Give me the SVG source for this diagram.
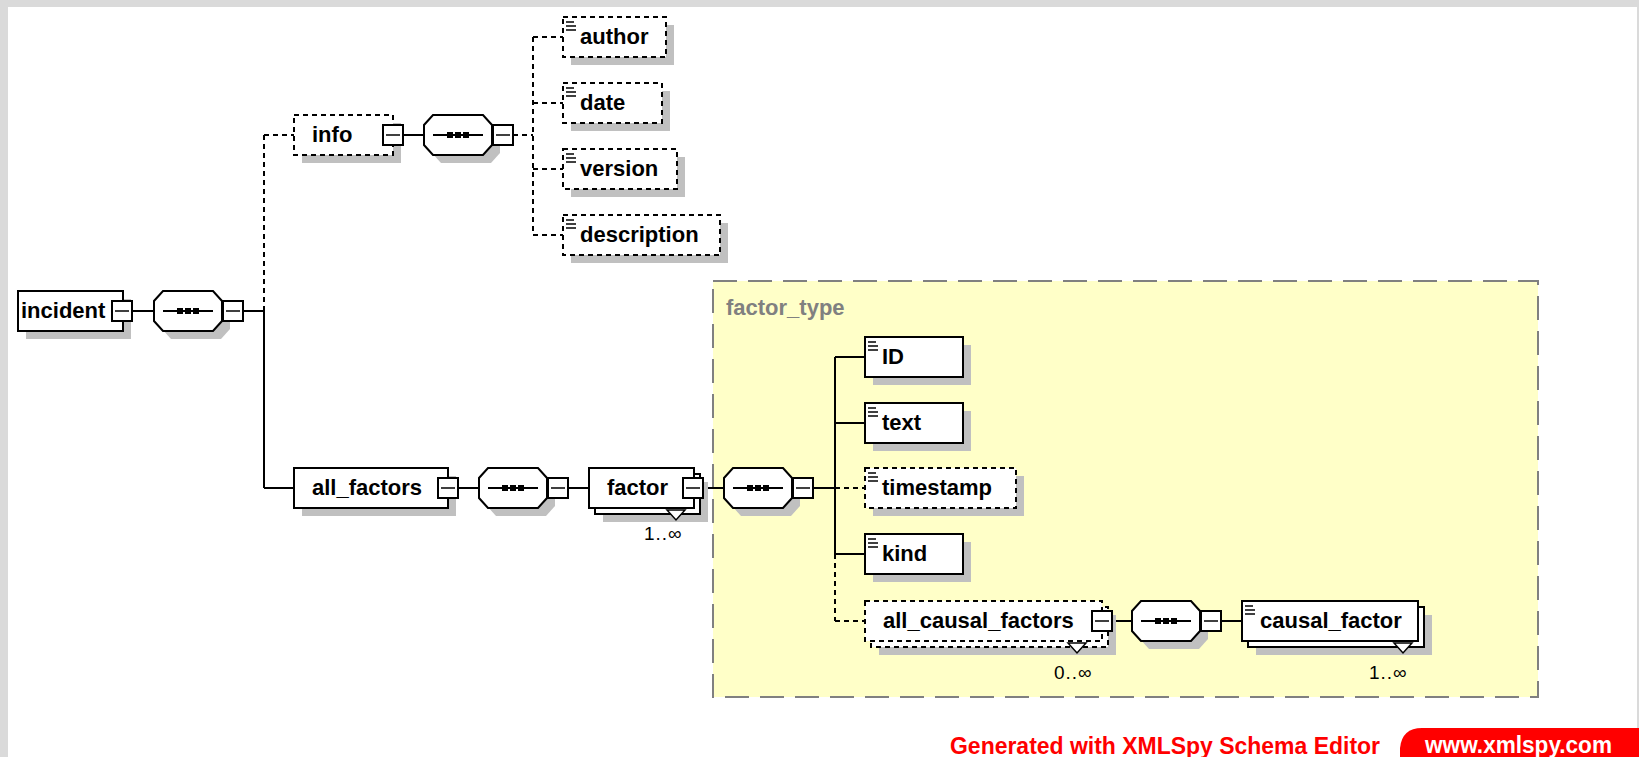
<svg xmlns="http://www.w3.org/2000/svg" width="1639" height="757" viewBox="0 0 1639 757">
<style>
.bg{fill:#dadada}
.page{fill:#ffffff}
.sh{fill:#c0c0c0}
.box{fill:#ffffff;stroke:#000;stroke-width:2}
.dbox{fill:#ffffff;stroke:#000;stroke-width:2;stroke-dasharray:5 4}
.ln{stroke:#000;stroke-width:2;fill:none}
.dl{stroke:#000;stroke-width:2;fill:none;stroke-dasharray:5 4}
.lbl{font-family:"Liberation Sans",Arial,sans-serif;font-weight:bold;font-size:22px;fill:#000}
.occ{font-family:"Liberation Sans",Arial,sans-serif;font-size:19px;fill:#000;letter-spacing:1px}
.type{font-family:"Liberation Sans",Arial,sans-serif;font-weight:bold;font-size:22px;fill:#808080}
.foot{font-family:"Liberation Sans Narrow","Liberation Sans",Arial,sans-serif;font-weight:bold;font-size:23px}
</style>
<defs>
<g id="minus">
<rect x="0" y="0" width="20" height="20" fill="#fff" stroke="#000" stroke-width="2"/>
<line x1="3" y1="10" x2="17" y2="10" stroke="#000" stroke-width="1.5"/>
</g>
<g id="seq">
<polygon points="17,8 67,8 76,18 76,38 67,48 17,48 8,38 8,18" class="sh"/>
<polygon points="9,0 59,0 68,10 68,30 59,40 9,40 0,30 0,10" fill="#fff" stroke="#000" stroke-width="2"/>
<line x1="9" y1="20" x2="59" y2="20" stroke="#000" stroke-width="2"/>
<rect x="23" y="17" width="6" height="6" fill="#000"/>
<rect x="31" y="17" width="6" height="6" fill="#000"/>
<rect x="39" y="17" width="6" height="6" fill="#000"/>
</g>
<g id="icon" stroke="#000" stroke-width="1.5">
<line x1="3" y1="5" x2="11" y2="5"/>
<line x1="3" y1="9" x2="13" y2="9"/>
<line x1="3" y1="13" x2="13" y2="13"/>
</g>
<polygon id="tri" points="0,0 18,0 9,10" fill="#fff" stroke="#000" stroke-width="1.5"/>
</defs>

<rect class="bg" x="0" y="0" width="1639" height="757"/>
<rect class="page" x="8" y="7" width="1629" height="750"/>

<g id="factor_type">
<rect x="713" y="281" width="825" height="416" fill="#ffffc8" stroke="#808080" stroke-width="2" stroke-dasharray="24 11"/>
<text class="type" x="726" y="315">factor_type</text>
</g>

<g id="connectors">
<line class="ln" x1="133" y1="311" x2="154" y2="311"/>
<line class="ln" x1="243" y1="311" x2="264" y2="311"/>
<line class="dl" x1="264" y1="135" x2="264" y2="311"/>
<line class="ln" x1="264" y1="311" x2="264" y2="488"/>
<line class="dl" x1="264" y1="135" x2="294" y2="135"/>
<line class="ln" x1="264" y1="488" x2="294" y2="488"/>
<line class="ln" x1="403" y1="135" x2="424" y2="135"/>
<line class="dl" x1="513" y1="135" x2="533" y2="135"/>
<line class="dl" x1="533" y1="37" x2="533" y2="235"/>
<line class="dl" x1="533" y1="37" x2="563" y2="37"/>
<line class="dl" x1="533" y1="103" x2="563" y2="103"/>
<line class="dl" x1="533" y1="169" x2="563" y2="169"/>
<line class="dl" x1="533" y1="235" x2="563" y2="235"/>
<line class="ln" x1="458" y1="488" x2="479" y2="488"/>
<line class="ln" x1="568" y1="488" x2="589" y2="488"/>
<line class="ln" x1="703" y1="488" x2="724" y2="488"/>
<line class="ln" x1="813" y1="488" x2="835" y2="488"/>
<line class="ln" x1="835" y1="357" x2="835" y2="554"/>
<line class="dl" x1="835" y1="554" x2="835" y2="621"/>
<line class="ln" x1="835" y1="357" x2="865" y2="357"/>
<line class="ln" x1="835" y1="423" x2="865" y2="423"/>
<line class="dl" x1="835" y1="488" x2="865" y2="488"/>
<line class="ln" x1="835" y1="554" x2="865" y2="554"/>
<line class="dl" x1="835" y1="621" x2="865" y2="621"/>
<line class="ln" x1="1112" y1="621" x2="1132" y2="621"/>
<line class="ln" x1="1221" y1="621" x2="1242" y2="621"/>
</g>

<g id="incident">
<rect class="sh" x="26" y="299" width="105" height="40"/>
<rect class="box" x="18" y="291" width="105" height="40"/>
<text class="lbl" x="21" y="318">incident</text>
<use href="#minus" x="112" y="301"/>
</g>
<g id="seq1"><use href="#seq" x="154" y="291"/><use href="#minus" x="223" y="301"/></g>

<g id="info">
<rect class="sh" x="302" y="123" width="99" height="40"/>
<rect class="dbox" x="294" y="115" width="99" height="40"/>
<text class="lbl" x="312" y="142">info</text>
<use href="#minus" x="383" y="125"/>
</g>
<g id="seq2"><use href="#seq" x="424" y="115"/><use href="#minus" x="493" y="125"/></g>

<g id="author">
<rect class="sh" x="571" y="25" width="103" height="40"/>
<rect class="dbox" x="563" y="17" width="103" height="40"/>
<use href="#icon" x="563" y="17"/>
<text class="lbl" x="580" y="44">author</text>
</g>
<g id="date">
<rect class="sh" x="571" y="91" width="99" height="40"/>
<rect class="dbox" x="563" y="83" width="99" height="40"/>
<use href="#icon" x="563" y="83"/>
<text class="lbl" x="580" y="110">date</text>
</g>
<g id="version">
<rect class="sh" x="571" y="157" width="114" height="40"/>
<rect class="dbox" x="563" y="149" width="114" height="40"/>
<use href="#icon" x="563" y="149"/>
<text class="lbl" x="580" y="176">version</text>
</g>
<g id="description">
<rect class="sh" x="571" y="223" width="157" height="40"/>
<rect class="dbox" x="563" y="215" width="157" height="40"/>
<use href="#icon" x="563" y="215"/>
<text class="lbl" x="580" y="242">description</text>
</g>

<g id="all_factors">
<rect class="sh" x="302" y="476" width="154" height="40"/>
<rect class="box" x="294" y="468" width="154" height="40"/>
<text class="lbl" x="312" y="495">all_factors</text>
<use href="#minus" x="438" y="478"/>
</g>
<g id="seq3"><use href="#seq" x="479" y="468"/><use href="#minus" x="548" y="478"/></g>

<g id="factor">
<rect class="sh" x="603" y="482" width="105" height="40"/>
<rect class="box" x="595" y="474" width="105" height="40"/>
<rect class="box" x="589" y="468" width="105" height="40"/>
<text class="lbl" x="607" y="495">factor</text>
<use href="#minus" x="683" y="478"/>
<use href="#tri" x="667" y="510"/>
<text class="occ" x="644" y="540">1..∞</text>
</g>
<g id="seq4"><use href="#seq" x="724" y="468"/><use href="#minus" x="793" y="478"/></g>

<g id="ID">
<rect class="sh" x="873" y="345" width="98" height="40"/>
<rect class="box" x="865" y="337" width="98" height="40"/>
<use href="#icon" x="865" y="337"/>
<text class="lbl" x="882" y="364">ID</text>
</g>
<g id="text">
<rect class="sh" x="873" y="411" width="98" height="40"/>
<rect class="box" x="865" y="403" width="98" height="40"/>
<use href="#icon" x="865" y="403"/>
<text class="lbl" x="882" y="430">text</text>
</g>
<g id="timestamp">
<rect class="sh" x="873" y="476" width="151" height="40"/>
<rect class="dbox" x="865" y="468" width="151" height="40"/>
<use href="#icon" x="865" y="468"/>
<text class="lbl" x="882" y="495">timestamp</text>
</g>
<g id="kind">
<rect class="sh" x="873" y="542" width="98" height="40"/>
<rect class="box" x="865" y="534" width="98" height="40"/>
<use href="#icon" x="865" y="534"/>
<text class="lbl" x="882" y="561">kind</text>
</g>

<g id="all_causal_factors">
<rect class="sh" x="879" y="615" width="237" height="40"/>
<rect class="dbox" x="871" y="607" width="237" height="40"/>
<rect class="dbox" x="865" y="601" width="237" height="40"/>
<text class="lbl" x="883" y="628">all_causal_factors</text>
<use href="#minus" x="1092" y="611"/>
<use href="#tri" x="1068" y="643"/>
<text class="occ" x="1054" y="679">0..∞</text>
</g>
<g id="seq5"><use href="#seq" x="1132" y="601"/><use href="#minus" x="1201" y="611"/></g>

<g id="causal_factor">
<rect class="sh" x="1256" y="615" width="176" height="40"/>
<rect class="box" x="1248" y="607" width="176" height="40"/>
<rect class="box" x="1242" y="601" width="176" height="40"/>
<use href="#icon" x="1242" y="601"/>
<text class="lbl" x="1260" y="628">causal_factor</text>
<use href="#tri" x="1394" y="643"/>
<text class="occ" x="1369" y="679">1..∞</text>
</g>

<g id="footer">
<text class="foot" x="950" y="754" fill="#ff0000" textLength="430" lengthAdjust="spacingAndGlyphs">Generated with XMLSpy Schema Editor</text>
<path d="M1400,757 L1400,748 Q1402,728 1422,728 L1639,728 L1639,757 Z" fill="#ff0000"/>
<text class="foot" x="1425" y="753" fill="#ffffff" textLength="187" lengthAdjust="spacingAndGlyphs">www.xmlspy.com</text>
</g>
</svg>
